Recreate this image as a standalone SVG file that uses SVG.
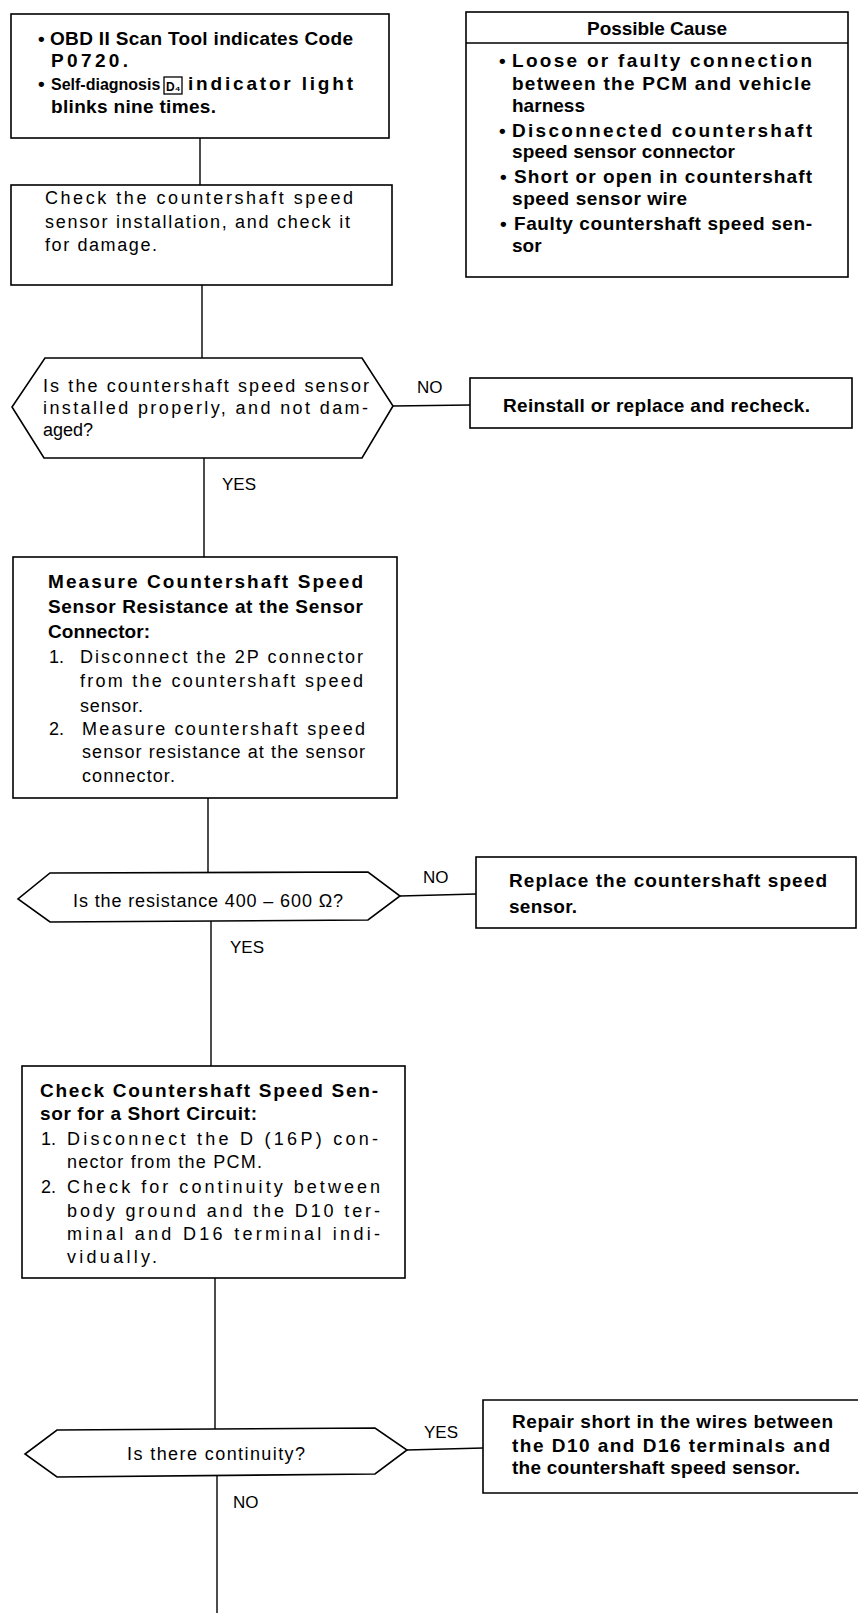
<svg xmlns="http://www.w3.org/2000/svg" width="858" height="1613" viewBox="0 0 858 1613">
<style>
.bg{fill:#fff}
.box{fill:#fff;stroke:#000;stroke-width:1.6}
.ln{stroke:#000;stroke-width:1.4;fill:none}
.b{font-family:"Liberation Sans",Arial,sans-serif;font-weight:bold;font-size:19px;fill:#000}
.r{font-family:"Liberation Sans",Arial,sans-serif;font-size:18px;fill:#000}
.lb{font-family:"Liberation Sans",Arial,sans-serif;font-size:17px;fill:#000}
.sym{fill:none;stroke:#000;stroke-width:1.3}
</style>
<rect class="bg" x="0" y="0" width="858" height="1613"/>
<g id="connectors">
<line class="ln" x1="200" y1="138" x2="200" y2="185"/>
<line class="ln" x1="202" y1="285" x2="202" y2="358"/>
<line class="ln" x1="204" y1="458" x2="204" y2="557"/>
<line class="ln" x1="393" y1="406" x2="470" y2="405"/>
<line class="ln" x1="208" y1="798" x2="208" y2="873"/>
<line class="ln" x1="211" y1="921" x2="211" y2="1066"/>
<line class="ln" x1="400" y1="896" x2="476" y2="894"/>
<line class="ln" x1="215" y1="1278" x2="215" y2="1429"/>
<line class="ln" x1="217" y1="1476" x2="217" y2="1613"/>
<line class="ln" x1="407" y1="1450" x2="483" y2="1448"/>
<text class="lb" x="417" y="393">NO</text>
<text class="lb" x="222" y="490">YES</text>
<text class="lb" x="423" y="883">NO</text>
<text class="lb" x="230" y="953">YES</text>
<text class="lb" x="424" y="1438">YES</text>
<text class="lb" x="233" y="1508">NO</text>
</g>
<g id="start">
<rect class="box" x="11" y="14" width="378" height="124"/>
<text class="b"><tspan x="38" y="45">•</tspan><tspan x="50" y="45" textLength="303" lengthAdjust="spacing">OBD II Scan Tool indicates Code</tspan></text>
<text class="b" x="51" y="67" textLength="77" lengthAdjust="spacing">P0720.</text>
<text class="b" x="38" y="90">•</text>
<text class="b" x="51" y="90" style="font-size:16px">Self-diagnosis</text>
<rect class="sym" x="164" y="77" width="18" height="17"/>
<text class="b" x="166" y="91" style="font-size:12px">D₄</text>
<text class="b" x="188" y="90" textLength="165" lengthAdjust="spacing">indicator light</text>
<text class="b" x="51" y="113" textLength="165" lengthAdjust="spacing">blinks nine times.</text>
</g>
<g id="cause">
<rect class="box" x="466" y="12" width="382" height="265"/>
<line class="ln" x1="466" y1="43" x2="848" y2="43"/>
<text class="b" x="587" y="35" textLength="140" lengthAdjust="spacing">Possible Cause</text>
<text class="b"><tspan x="499" y="67">•</tspan><tspan x="512" y="67" textLength="300" lengthAdjust="spacing">Loose or faulty connection</tspan></text>
<text class="b" x="512" y="90" textLength="299" lengthAdjust="spacing">between the PCM and vehicle</text>
<text class="b" x="512" y="112" textLength="73" lengthAdjust="spacing">harness</text>
<text class="b"><tspan x="499" y="137">•</tspan><tspan x="512" y="137" textLength="300" lengthAdjust="spacing">Disconnected  countershaft</tspan></text>
<text class="b" x="512" y="158" textLength="223" lengthAdjust="spacing">speed sensor connector</text>
<text class="b"><tspan x="500" y="183">•</tspan><tspan x="514" y="183" textLength="298" lengthAdjust="spacing">Short or open in countershaft</tspan></text>
<text class="b" x="512" y="205" textLength="175" lengthAdjust="spacing">speed sensor wire</text>
<text class="b"><tspan x="500" y="230">•</tspan><tspan x="514" y="230" textLength="298" lengthAdjust="spacing">Faulty countershaft speed sen-</tspan></text>
<text class="b" x="512" y="252">sor</text>
</g>
<g id="check-install">
<rect class="box" x="11" y="185" width="381" height="100"/>
<text class="r" x="45" y="204" textLength="308" lengthAdjust="spacing">Check the countershaft speed</text>
<text class="r" x="45" y="228" textLength="305" lengthAdjust="spacing">sensor installation, and check it</text>
<text class="r" x="45" y="251" textLength="112" lengthAdjust="spacing">for damage.</text>
</g>
<g id="q-installed">
<polygon class="box" points="45,358 362,358 393,406 362,458 44,458 12,407"/>
<text class="r" x="43" y="392" textLength="326" lengthAdjust="spacing">Is the countershaft speed sensor</text>
<text class="r" x="43" y="414" textLength="325" lengthAdjust="spacing">installed properly, and not dam-</text>
<text class="r" x="43" y="436">aged?</text>
</g>
<g id="reinstall">
<rect class="box" x="470" y="378" width="382" height="50"/>
<text class="b" x="503" y="412" textLength="307" lengthAdjust="spacing">Reinstall or replace and recheck.</text>
</g>
<g id="measure">
<rect class="box" x="13" y="557" width="384" height="241"/>
<text class="b" x="48" y="588" textLength="315" lengthAdjust="spacing">Measure Countershaft Speed</text>
<text class="b" x="48" y="613" textLength="315" lengthAdjust="spacing">Sensor Resistance at the Sensor</text>
<text class="b" x="48" y="638" textLength="102" lengthAdjust="spacing">Connector:</text>
<text class="r"><tspan x="49" y="663">1.</tspan><tspan x="80" y="663" textLength="283" lengthAdjust="spacing">Disconnect the 2P connector</tspan></text>
<text class="r" x="80" y="687" textLength="283" lengthAdjust="spacing">from the countershaft speed</text>
<text class="r" x="80" y="712" textLength="63" lengthAdjust="spacing">sensor.</text>
<text class="r"><tspan x="49" y="735">2.</tspan><tspan x="82" y="735" textLength="283" lengthAdjust="spacing">Measure countershaft speed</tspan></text>
<text class="r" x="82" y="758" textLength="283" lengthAdjust="spacing">sensor resistance at the sensor</text>
<text class="r" x="82" y="782" textLength="93" lengthAdjust="spacing">connector.</text>
</g>
<g id="q-resistance">
<polygon class="box" points="50,873 368,872 400,896 368,920 50,922 18,899"/>
<text class="r" x="73" y="907" textLength="270" lengthAdjust="spacing">Is the resistance 400 – 600 Ω?</text>
</g>
<g id="replace">
<rect class="box" x="476" y="857" width="380" height="71"/>
<text class="b" x="509" y="887" textLength="318" lengthAdjust="spacing">Replace the countershaft speed</text>
<text class="b" x="509" y="913" textLength="68" lengthAdjust="spacing">sensor.</text>
</g>
<g id="short-check">
<rect class="box" x="22" y="1066" width="383" height="212"/>
<text class="b" x="40" y="1097" textLength="338" lengthAdjust="spacing">Check Countershaft Speed Sen-</text>
<text class="b" x="40" y="1120" textLength="217" lengthAdjust="spacing">sor for a Short Circuit:</text>
<text class="r"><tspan x="41" y="1145">1.</tspan><tspan x="67" y="1145" textLength="311" lengthAdjust="spacing">Disconnect the D (16P) con-</tspan></text>
<text class="r" x="67" y="1168" textLength="195" lengthAdjust="spacing">nector from the PCM.</text>
<text class="r"><tspan x="41" y="1193">2.</tspan><tspan x="67" y="1193" textLength="313" lengthAdjust="spacing">Check for continuity between</tspan></text>
<text class="r" x="67" y="1217" textLength="313" lengthAdjust="spacing">body ground and the D10 ter-</text>
<text class="r" x="67" y="1240" textLength="313" lengthAdjust="spacing">minal and D16 terminal indi-</text>
<text class="r" x="67" y="1263" textLength="90" lengthAdjust="spacing">vidually.</text>
</g>
<g id="q-continuity">
<polygon class="box" points="57,1430 375,1428 407,1450 375,1474 57,1477 25,1454"/>
<text class="r" x="127" y="1460" textLength="178" lengthAdjust="spacing">Is there continuity?</text>
</g>
<g id="repair">
<path class="box" d="M858,1400 H483 V1493 H858"/>
<text class="b" x="512" y="1428" textLength="321" lengthAdjust="spacing">Repair short in the wires between</text>
<text class="b" x="512" y="1452" textLength="318" lengthAdjust="spacing">the D10 and D16 terminals and</text>
<text class="b" x="512" y="1474" textLength="288" lengthAdjust="spacing">the countershaft speed sensor.</text>
</g>
</svg>
